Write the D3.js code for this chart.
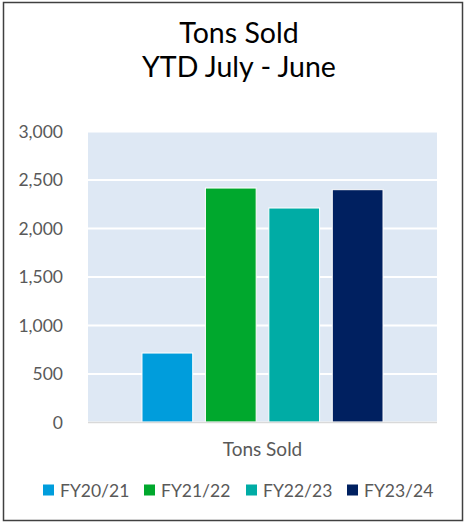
<!DOCTYPE html>
<html><head><meta charset="utf-8">
<script src="https://cdn.jsdelivr.net/npm/d3@7"></script>
<style>body{margin:0;background:#fff;} svg{display:block;}</style>
</head><body>
<svg id="c" width="470" height="524"></svg>
<script>
const titleLines = ["Tons Sold", "YTD July - June"];
const category = "Tons Sold";
const seriesNames = ["FY20/21", "FY21/22", "FY22/23", "FY23/24"];
const seriesValues = [711, 2412, 2206, 2395];
const seriesColors = ["#009DDC", "#00A82D", "#00ACA5", "#002060"];
const yTicks = [0, 500, 1000, 1500, 2000, 2500, 3000];

const svg = d3.select("#c");
const font = "Lato, 'Open Sans', sans-serif";
const M = {left: 88, right: 437, top: 131, bottom: 422};

svg.append("rect").attr("x", 3.5).attr("y", 2.5).attr("width", 459).attr("height", 518)
  .attr("fill", "#fff").attr("stroke", "#404040").attr("stroke-width", 1.5);

svg.selectAll("text.title").data(titleLines).join("text").attr("class", "title")
  .attr("x", 239).attr("y", (d, i) => 43 + i * 34)
  .attr("text-anchor", "middle").attr("font-family", font).attr("font-size", 28.5)
  .attr("fill", "#000").text(d => d);

const y = d3.scaleLinear().domain([0, 3000]).range([M.bottom, M.top]);
const x0 = d3.scaleBand().domain([category]).range([M.left, M.right]).paddingInner(0).paddingOuter(0.155);
const x1 = d3.scaleBand().domain(seriesNames).range([0, x0.bandwidth()]).padding(0.2);

svg.append("rect").attr("x", M.left).attr("y", M.top).attr("width", M.right - M.left)
  .attr("height", M.bottom - M.top).attr("fill", "#DEE8F4");

const yAxis = d3.axisLeft(y).tickValues(yTicks).tickSize(-(M.right - M.left)).tickFormat(d3.format(","));
const ga = svg.append("g").attr("transform", `translate(${M.left},0)`).call(yAxis);
ga.select(".domain").remove();
ga.selectAll(".tick line").attr("stroke", "#fff").attr("stroke-width", 2);
ga.selectAll(".tick text").attr("x", -25).attr("dy", "0.35em").attr("fill", "#595959")
  .attr("font-family", font).attr("font-size", 17.5);

svg.append("g").selectAll("rect").data(seriesNames).join("rect")
  .attr("x", d => x0(category) + x1(d)).attr("width", x1.bandwidth())
  .attr("y", (d, i) => y(seriesValues[i])).attr("height", (d, i) => y(0) - y(seriesValues[i]))
  .attr("fill", (d, i) => seriesColors[i]).attr("stroke", "#fff").attr("stroke-width", 1);

svg.append("line").attr("x1", M.left).attr("x2", M.right).attr("y1", M.bottom + 0.5).attr("y2", M.bottom + 0.5)
  .attr("stroke", "#D9D9D9").attr("stroke-width", 1.5);

svg.append("text").attr("x", x0(category) + x0.bandwidth() / 2).attr("y", 455.5)
  .attr("text-anchor", "middle").attr("font-family", font).attr("font-size", 19)
  .attr("fill", "#595959").text(category);

const legX = [43, 144, 246, 347];
const lg = svg.append("g").selectAll("g").data(seriesNames).join("g")
  .attr("transform", (d, i) => `translate(${legX[i]},484.5)`);
lg.append("rect").attr("width", 11).attr("height", 11).attr("fill", (d, i) => seriesColors[i]);
lg.append("text").attr("x", 17).attr("y", 12).attr("font-family", font).attr("font-size", 17.5)
  .attr("fill", "#595959").text(d => d);
</script>
</body></html>
